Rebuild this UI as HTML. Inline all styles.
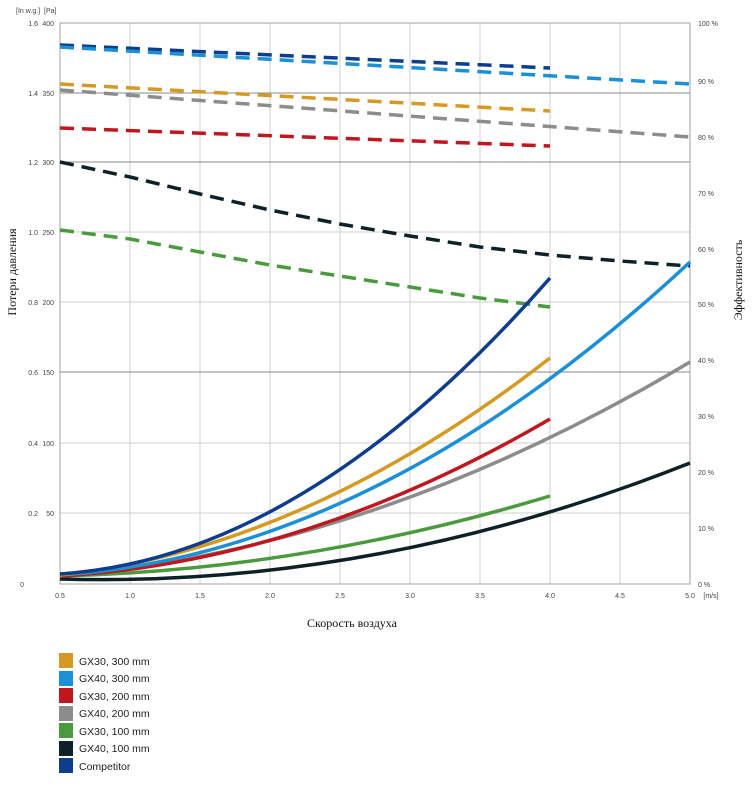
<!DOCTYPE html>
<html><head><meta charset="utf-8"><style>
body{margin:0;background:#fff;width:755px;height:787px;overflow:hidden}
svg{display:block}
.t{font-family:"Liberation Sans",sans-serif;font-size:7px;fill:#444}
.lg{font-family:"Liberation Sans",sans-serif;font-size:10.5px;fill:#222}
.ti{font-family:"Liberation Serif","DejaVu Serif",serif;font-size:12px;fill:#111}
</style></head><body>
<svg width="755" height="787" xmlns="http://www.w3.org/2000/svg">
<g stroke="#cfcfcf" stroke-width="1">
<line x1="130" y1="23" x2="130" y2="584"/><line x1="200" y1="23" x2="200" y2="584"/>
<line x1="270" y1="23" x2="270" y2="584"/><line x1="340" y1="23" x2="340" y2="584"/>
<line x1="410" y1="23" x2="410" y2="584"/><line x1="480" y1="23" x2="480" y2="584"/>
<line x1="550" y1="23" x2="550" y2="584"/><line x1="620" y1="23" x2="620" y2="584"/>
<line x1="60" y1="232" x2="690" y2="232"/><line x1="60" y1="302" x2="690" y2="302"/>
<line x1="60" y1="443" x2="690" y2="443"/><line x1="60" y1="513" x2="690" y2="513"/>
</g>
<g stroke="#8a8a8a" stroke-width="1">
<line x1="60" y1="93" x2="690" y2="93"/><line x1="60" y1="162" x2="690" y2="162"/>
<line x1="60" y1="372" x2="690" y2="372"/>
<rect x="60" y="23" width="630" height="561" fill="none" stroke="#a0a0a0"/>
</g>
<g fill="none" stroke-width="3.5" stroke-dasharray="14 8">
<line x1="60" y1="45" x2="550" y2="68" stroke="#0d3d8c"/>
<line x1="60" y1="47" x2="690" y2="84" stroke="#1b8fd8"/>
<line x1="60" y1="84" x2="550" y2="111" stroke="#d69a23"/>
<line x1="60" y1="90" x2="690" y2="137" stroke="#8c8c8c"/>
<line x1="60" y1="128" x2="550" y2="146" stroke="#c0161e"/>
<polyline points="60,162 130,177 200,194 270,210 340,224 410,236 480,247 550,255 620,261 690,266" stroke="#0c2228"/>
<polyline points="60,230 130,239 200,252 270,265 340,276 410,287 480,298 550,307" stroke="#4a9a3e"/>
</g>
<g fill="none" stroke-width="3.5">
<path d="M60,579 Q375,588 690,463" stroke="#0c2228"/>
<path d="M60,576 Q305,570 550,496" stroke="#4a9a3e"/>
<path d="M60,576 Q375,550 690,362" stroke="#8c8c8c"/>
<path d="M60,576 Q305,562 550,419" stroke="#c0161e"/>
<path d="M60,575 Q375,555 690,262" stroke="#1b8fd8"/>
<path d="M60,575 Q305,549 550,358" stroke="#d69a23"/>
<path d="M60,574 Q305,558 550,278" stroke="#0d3d8c"/>
</g>
<g class="t" text-anchor="end">
<text x="16" y="13" text-anchor="start">[In w.g.]</text><text x="44" y="13" text-anchor="start">[Pa]</text>
<text x="38" y="26">1.6</text><text x="54" y="26">400</text>
<text x="38" y="96">1.4</text><text x="54" y="96">350</text>
<text x="38" y="165">1.2</text><text x="54" y="165">300</text>
<text x="38" y="235">1.0</text><text x="54" y="235">250</text>
<text x="38" y="305">0.8</text><text x="54" y="305">200</text>
<text x="38" y="375">0.6</text><text x="54" y="375">150</text>
<text x="38" y="446">0.4</text><text x="54" y="446">100</text>
<text x="38" y="516">0.2</text><text x="54" y="516">50</text>
<text x="24" y="587">0</text>
</g>
<g class="t" text-anchor="middle">
<text x="60" y="598">0.5</text><text x="130" y="598">1.0</text><text x="200" y="598">1.5</text>
<text x="270" y="598">2.0</text><text x="340" y="598">2.5</text><text x="410" y="598">3.0</text>
<text x="480" y="598">3.5</text><text x="550" y="598">4.0</text><text x="620" y="598">4.5</text>
<text x="690" y="598">5.0</text><text x="711" y="598">[m/s]</text>
</g>
<g class="t">
<text x="698" y="26">100 %</text><text x="698" y="84">90 %</text><text x="698" y="140">80 %</text>
<text x="698" y="196">70 %</text><text x="698" y="252">60 %</text><text x="698" y="307">50 %</text>
<text x="698" y="363">40 %</text><text x="698" y="419">30 %</text><text x="698" y="475">20 %</text>
<text x="698" y="531">10 %</text><text x="698" y="587">0 %</text>
</g>
<text class="ti" x="352" y="627" text-anchor="middle">Скорость воздуха</text>
<text class="ti" transform="translate(16,272) rotate(-90)" text-anchor="middle">Потери давления</text>
<text class="ti" transform="translate(742,280) rotate(-90)" text-anchor="middle">Эффективность</text>
<g>
<rect x="59" y="653" width="14" height="15" fill="#d69a23"/><text class="lg" x="79" y="665">GX30, 300 mm</text>
<rect x="59" y="671" width="14" height="15" fill="#1b8fd8"/><text class="lg" x="79" y="682">GX40, 300 mm</text>
<rect x="59" y="688" width="14" height="15" fill="#c0161e"/><text class="lg" x="79" y="700">GX30, 200 mm</text>
<rect x="59" y="706" width="14" height="15" fill="#8c8c8c"/><text class="lg" x="79" y="717">GX40, 200 mm</text>
<rect x="59" y="723" width="14" height="15" fill="#4a9a3e"/><text class="lg" x="79" y="735">GX30, 100 mm</text>
<rect x="59" y="741" width="14" height="15" fill="#0c2228"/><text class="lg" x="79" y="752">GX40, 100 mm</text>
<rect x="59" y="758" width="14" height="15" fill="#0d3d8c"/><text class="lg" x="79" y="770">Competitor</text>
</g>
</svg>
</body></html>
